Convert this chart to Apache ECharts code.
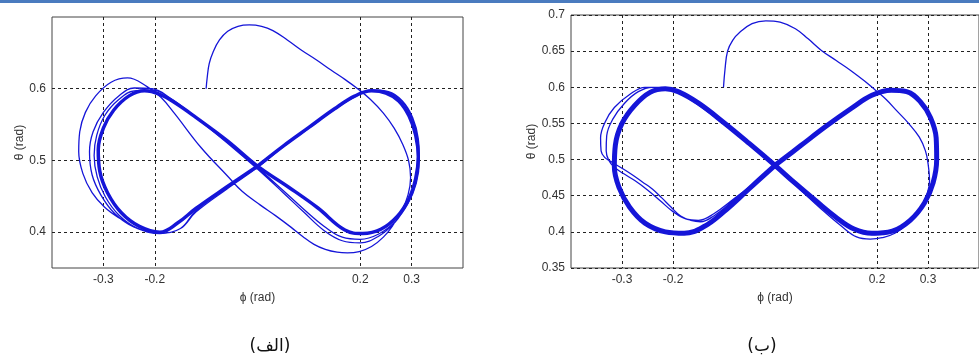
<!DOCTYPE html>
<html>
<head>
<meta charset="utf-8">
<script src="https://cdn.jsdelivr.net/npm/echarts@6/dist/echarts.min.js"></script>
<style>
  html, body { margin: 0; padding: 0; background: #fff; overflow: hidden; }
  #main { width: 979px; height: 358px; }
</style>
</head>
<body>
<div id="main"></div>
<script>
// tick labels
var leftXTicks = [-0.3, -0.2, 0.2, 0.3];
var leftYTicks = [0.4, 0.5, 0.6];
var rightXTicks = [-0.3, -0.2, 0.2, 0.3];

// (الف) transient path [phi, theta]
var leftTransient = [
  [-0.100,0.600],[-0.098,0.615],[-0.094,0.635],[-0.086,0.652],[-0.074,0.668],[-0.058,0.680],[-0.038,0.687],
  [-0.016,0.689],[0.008,0.687],[0.030,0.681],[0.058,0.668],[0.085,0.654],[0.115,0.640],[0.143,0.626],
  [0.170,0.613],[0.195,0.600],[0.220,0.585],[0.245,0.566],[0.266,0.545],[0.283,0.522],[0.294,0.500],
  [0.298,0.476],[0.293,0.452],[0.281,0.430],[0.264,0.410],[0.245,0.393],[0.222,0.380],[0.198,0.373],
  [0.175,0.371],[0.155,0.372],[0.132,0.376],[0.110,0.383],[0.088,0.394],[0.065,0.407],[0.035,0.423],
  [0.005,0.438],[-0.030,0.457],[-0.058,0.478],[-0.110,0.518],[-0.162,0.566],[-0.188,0.588],[-0.215,0.603],
  [-0.253,0.615],[-0.285,0.609],[-0.315,0.590],[-0.335,0.567],[-0.346,0.540],[-0.348,0.512],[-0.340,0.482],
  [-0.322,0.455],[-0.298,0.435],[-0.270,0.420],[-0.233,0.405],[-0.190,0.398],[-0.150,0.405],[-0.120,0.428],
  [-0.060,0.460],[0.000,0.490],[0.050,0.519],[0.100,0.545],[0.150,0.571],[0.190,0.589],[0.225,0.598],
  [0.255,0.595],[0.280,0.583],[0.300,0.560],[0.312,0.530],[0.314,0.500],[0.308,0.468],[0.292,0.440],
  [0.268,0.414],[0.235,0.394],[0.200,0.385],[0.165,0.388],[0.130,0.402],[0.090,0.428],[0.050,0.455],
  [0.000,0.488],[-0.060,0.525],[-0.120,0.560],[-0.170,0.587],[-0.205,0.600],[-0.240,0.601],[-0.270,0.590],
  [-0.300,0.567],[-0.320,0.540],[-0.327,0.512],[-0.322,0.480],[-0.305,0.452],[-0.278,0.426],[-0.240,0.407],
  [-0.190,0.399],[-0.150,0.405],[-0.120,0.430],[-0.060,0.462],[0.000,0.492],[0.050,0.519],[0.100,0.546],
  [0.150,0.572],[0.190,0.590],[0.225,0.598],[0.255,0.596],[0.282,0.583],[0.302,0.560],[0.313,0.530],
  [0.315,0.500],[0.309,0.468],[0.293,0.440],[0.268,0.415],[0.235,0.397],[0.200,0.390],[0.165,0.393],
  [0.130,0.408],[0.090,0.432],[0.050,0.458],[0.000,0.490],[-0.060,0.526],[-0.120,0.560],[-0.170,0.587],
  [-0.205,0.598],[-0.240,0.597],[-0.270,0.585],[-0.297,0.563],[-0.313,0.535],[-0.318,0.507],[-0.312,0.477],
  [-0.296,0.449],[-0.270,0.424],[-0.235,0.406],[-0.190,0.399]
];

// (الف) settled figure-eight
var leftCycle = [
  [0.000,0.492],[0.050,0.520],[0.100,0.546],[0.150,0.572],[0.190,0.590],[0.222,0.597],[0.250,0.594],
  [0.275,0.583],[0.295,0.562],[0.308,0.535],[0.313,0.505],[0.308,0.475],[0.295,0.447],[0.272,0.422],
  [0.240,0.404],[0.205,0.398],[0.170,0.403],[0.117,0.434],[0.060,0.463],[0.000,0.492],[-0.058,0.527],
  [-0.120,0.560],[-0.160,0.580],[-0.190,0.592],[-0.220,0.597],[-0.250,0.590],[-0.280,0.570],[-0.300,0.545],
  [-0.310,0.515],[-0.307,0.485],[-0.292,0.455],[-0.265,0.427],[-0.230,0.408],[-0.190,0.400],[-0.155,0.413],
  [-0.120,0.433],[-0.060,0.463],[0.000,0.492]
];

// (ب) transient path
var rightTransient = [
  [-0.101,0.600],[-0.098,0.625],[-0.093,0.650],[-0.083,0.665],[-0.069,0.676],[-0.045,0.688],[-0.018,0.692],
  [0.010,0.690],[0.040,0.681],[0.065,0.667],[0.091,0.651],[0.120,0.637],[0.149,0.623],[0.175,0.609],
  [0.197,0.596],[0.218,0.583],[0.238,0.568],[0.262,0.550],[0.283,0.531],[0.295,0.512],[0.300,0.495],
  [0.303,0.470],[0.298,0.452],[0.285,0.432],[0.260,0.412],[0.235,0.398],[0.210,0.392],[0.187,0.390],
  [0.160,0.393],[0.130,0.408],[0.090,0.432],[0.050,0.458],[0.000,0.490],[-0.060,0.526],[-0.120,0.560],
  [-0.170,0.585],[-0.200,0.596],[-0.230,0.600],[-0.255,0.600],[-0.285,0.590],[-0.315,0.572],[-0.333,0.552],
  [-0.342,0.530],[-0.341,0.512],[-0.334,0.503],[-0.319,0.496],[-0.300,0.488],[-0.280,0.479],[-0.260,0.469],
  [-0.240,0.459],[-0.222,0.447],[-0.205,0.435],[-0.185,0.422],[-0.165,0.416],[-0.146,0.414],[-0.120,0.422],
  [-0.080,0.444],[-0.040,0.467],[0.000,0.491],[0.050,0.519],[0.100,0.546],[0.150,0.571],[0.190,0.589],
  [0.225,0.596],[0.258,0.594],[0.285,0.580],[0.305,0.558],[0.315,0.530],[0.316,0.500],[0.309,0.468],
  [0.292,0.440],[0.264,0.416],[0.230,0.400],[0.195,0.396],[0.155,0.403],[0.120,0.420],[0.080,0.443],
  [0.040,0.467],[0.000,0.491],[-0.050,0.522],[-0.100,0.551],[-0.150,0.578],[-0.190,0.594],[-0.215,0.599],
  [-0.240,0.600],[-0.268,0.594],[-0.295,0.578],[-0.318,0.556],[-0.330,0.533],[-0.331,0.512],[-0.326,0.499],
  [-0.316,0.490],[-0.298,0.481],[-0.275,0.471],[-0.250,0.458],[-0.225,0.443],[-0.200,0.428],[-0.175,0.418],
  [-0.150,0.416],[-0.120,0.425],[-0.080,0.446],[-0.040,0.468],[0.000,0.491]
];

// (ب) settled figure-eight
var rightCycle = [
  [0.000,0.492],[0.050,0.519],[0.100,0.546],[0.150,0.571],[0.190,0.589],[0.228,0.596],[0.258,0.594],
  [0.285,0.580],[0.305,0.558],[0.316,0.530],[0.317,0.500],[0.310,0.468],[0.293,0.440],[0.265,0.416],
  [0.230,0.401],[0.190,0.398],[0.155,0.404],[0.120,0.420],[0.080,0.443],[0.040,0.467],[0.000,0.492],
  [-0.050,0.522],[-0.100,0.551],[-0.150,0.578],[-0.190,0.594],[-0.215,0.598],[-0.245,0.593],[-0.275,0.575],
  [-0.300,0.550],[-0.313,0.520],[-0.315,0.490],[-0.305,0.460],[-0.285,0.434],[-0.255,0.412],[-0.215,0.400],
  [-0.178,0.398],[-0.140,0.407],[-0.100,0.428],[-0.050,0.460],[0.000,0.492]
];

var blue = '#1515d8';
var labelFont = { fontFamily: 'Liberation Sans', fontSize: 12, color: '#333' };
var dotted = { show: true, lineStyle: { color: '#222', type: [3, 3], width: 1 } };

function xAxisOf(idx, ticks) {
  return {
    type: 'value', gridIndex: idx, min: -0.4, max: 0.4,
    name: 'ϕ (rad)', nameLocation: 'middle', nameGap: 24,
    nameTextStyle: labelFont,
    axisLine: { show: false },
    axisTick: { show: false, customValues: ticks },
    axisLabel: Object.assign({ customValues: ticks, margin: 6 }, labelFont),
    splitLine: dotted
  };
}

var option = {
  animation: false,
  backgroundColor: '#fff',
  grid: [
    { left: 52, top: 17, width: 411, height: 251, show: true, borderColor: '#444', borderWidth: 1, backgroundColor: '#fff' },
    { left: 571, top: 15, width: 416, height: 253, show: true, borderColor: '#444', borderWidth: 1, backgroundColor: '#fff' }
  ],
  xAxis: [xAxisOf(0, leftXTicks), xAxisOf(1, rightXTicks)],
  yAxis: [
    {
      type: 'value', gridIndex: 0, min: 0.35, max: 0.7,
      name: 'θ (rad)', nameLocation: 'middle', nameGap: 24, nameTextStyle: labelFont,
      axisLine: { show: false },
      axisTick: { show: false, customValues: leftYTicks },
      axisLabel: Object.assign({ customValues: leftYTicks, margin: 6 }, labelFont),
      splitLine: dotted
    },
    {
      type: 'value', gridIndex: 1, min: 0.35, max: 0.7, interval: 0.05,
      name: 'θ (rad)', nameLocation: 'middle', nameGap: 33, nameTextStyle: labelFont,
      axisLine: { show: false },
      axisTick: { show: false },
      axisLabel: Object.assign({ margin: 6, formatter: function (v) { return +v.toFixed(2) + ''; } }, labelFont),
      splitLine: dotted
    }
  ],
  graphic: [
    { type: 'rect', shape: { x: 0, y: 0, width: 979, height: 3 }, style: { fill: '#4a7bbf' } },
    { type: 'text', x: 270, y: 347, style: { text: '(الف)', font: '17px "DejaVu Sans"', fill: '#111', align: 'center', verticalAlign: 'middle' } },
    { type: 'text', x: 762, y: 347, style: { text: '(ب)', font: '17px "DejaVu Sans"', fill: '#111', align: 'center', verticalAlign: 'middle' } }
  ],
  series: [
    { type: 'line', xAxisIndex: 0, yAxisIndex: 0, data: leftCycle, showSymbol: false, smooth: 0.4, lineStyle: { color: blue, width: 3.5 } },
    { type: 'line', xAxisIndex: 0, yAxisIndex: 0, data: leftTransient, showSymbol: false, smooth: 0.4, lineStyle: { color: blue, width: 1.3 } },
    { type: 'line', xAxisIndex: 1, yAxisIndex: 1, data: rightCycle, showSymbol: false, smooth: 0.4, lineStyle: { color: blue, width: 5 } },
    { type: 'line', xAxisIndex: 1, yAxisIndex: 1, data: rightTransient, showSymbol: false, smooth: 0.4, lineStyle: { color: blue, width: 1.3 } }
  ]
};

var chart = echarts.init(document.getElementById('main'));
chart.setOption(option);
</script>
</body>
</html>
